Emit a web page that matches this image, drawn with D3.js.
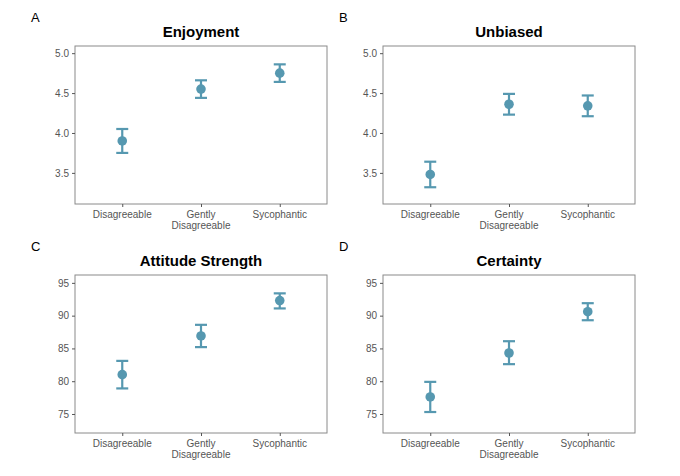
<!DOCTYPE html>
<html><head><meta charset="utf-8">
<script src="https://cdn.jsdelivr.net/npm/d3@7"></script>
<style>body{margin:0;background:#fff}</style></head>
<body><svg id="c" width="680" height="476"></svg>
<script>
const categories = ["Disagreeable", "Gently\nDisagreeable", "Sycophantic"];
const titles = ["Enjoyment", "Unbiased", "Attitude Strength", "Certainty"];
const letters = ["A", "B", "C", "D"];
const means = [[3.90, 4.55, 4.75], [3.48, 4.36, 4.34], [81.0, 86.9, 92.3], [77.6, 84.3, 90.6]];
const lows = [[3.75, 4.44, 4.64], [3.32, 4.23, 4.21], [78.9, 85.2, 91.1], [75.3, 82.6, 89.3]];
const highs = [[4.05, 4.66, 4.86], [3.64, 4.49, 4.47], [83.1, 88.6, 93.4], [79.9, 86.1, 91.9]];
const yTicks = [[3.5, 4.0, 4.5, 5.0], [3.5, 4.0, 4.5, 5.0], [75, 80, 85, 90, 95], [75, 80, 85, 90, 95]];
const yDomains = [[3.11, 5.09], [3.11, 5.09], [72.1, 96.2], [72.1, 96.2]];
const col = "#5698b0";
const svg = d3.select("#c");
const panels = [{x:75,y:46},{x:383,y:46},{x:75,y:275},{x:383,y:275}];
const W = 252, H = 158;
panels.forEach((p, i) => {
  const g = svg.append("g").attr("transform", `translate(${p.x},${p.y})`);
  const x = d3.scalePoint().domain(categories).range([0, W]).padding(0.6);
  const y = d3.scaleLinear().domain(yDomains[i]).range([H, 0]);
  g.append("rect").attr("width", W).attr("height", H).attr("fill", "none").attr("stroke", "#8a8a8a").attr("stroke-width", 1);
  const fmt = i < 2 ? d3.format(".1f") : d3.format("d");
  const ya = g.append("g").call(d3.axisLeft(y).tickValues(yTicks[i]).tickFormat(fmt).tickSize(3).tickPadding(3));
  ya.select(".domain").remove();
  ya.selectAll("line").attr("stroke", "#555");
  ya.selectAll("text").attr("fill", "#555").style("font", "10px 'Liberation Sans', Arial, sans-serif");
  const xa = g.append("g").attr("transform", `translate(0,${H})`).call(d3.axisBottom(x).tickSize(3).tickFormat(""));
  xa.select(".domain").remove();
  xa.selectAll("line").attr("stroke", "#555");
  categories.forEach(c => {
    const t = g.append("text").attr("x", x(c)).attr("y", H + 14).attr("text-anchor", "middle")
      .attr("fill", "#555").style("font", "10px 'Liberation Sans', Arial, sans-serif");
    c.split("\n").forEach((l, k) => t.append("tspan").attr("x", x(c)).attr("dy", k ? 11 : 0).text(l));
  });
  categories.forEach((c, j) => {
    const cx = x(c);
    g.append("line").attr("x1", cx).attr("x2", cx).attr("y1", y(lows[i][j])).attr("y2", y(highs[i][j])).attr("stroke", col).attr("stroke-width", 2.2);
    [lows[i][j], highs[i][j]].forEach(v => g.append("line").attr("x1", cx - 6).attr("x2", cx + 6).attr("y1", y(v)).attr("y2", y(v)).attr("stroke", col).attr("stroke-width", 2.2));
    g.append("circle").attr("cx", cx).attr("cy", y(means[i][j])).attr("r", 4.8).attr("fill", col);
  });
  g.append("text").attr("x", W / 2).attr("y", -9).attr("text-anchor", "middle").attr("fill", "#000")
    .style("font", "bold 15px 'Liberation Sans', Arial, sans-serif").text(titles[i]);
  svg.append("text").attr("x", p.x - 44).attr("y", p.y - 24).attr("fill", "#000")
    .style("font", "13px 'Liberation Sans', Arial, sans-serif").text(letters[i]);
});
</script></body></html>
